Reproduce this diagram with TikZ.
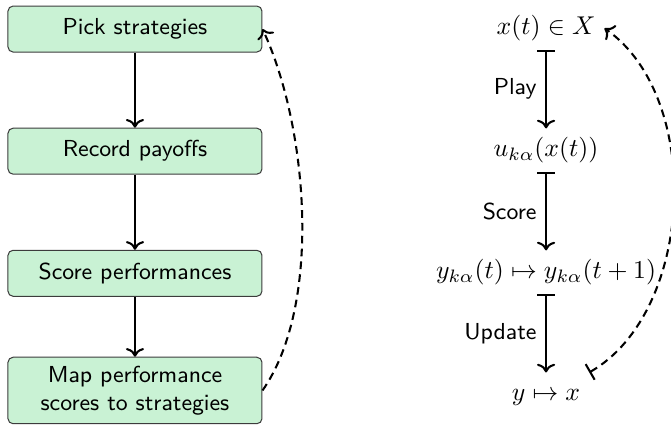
\documentclass[tikz,border=0pt]{standalone}
\usetikzlibrary{arrows.meta,positioning}
\definecolor{boxfill}{HTML}{C9F2D4}
\definecolor{boxline}{HTML}{3C3C3C}
\begin{document}
\begin{tikzpicture}[
  font=\small\sffamily,>=To,
  stepbox/.style={draw=boxline, rounded corners=2pt, fill=boxfill, align=center, minimum width=98.8pt, minimum height=17.9pt},
  term/.style={font=\normalsize, text height=7.5pt, text depth=2.5pt},
  flow/.style={->, thick},
  mapto/.style={thick, arrows={Bar[width=7pt]-To}},
  back/.style={thick, dash pattern=on 3pt off 2pt},
]
\useasboundingbox (0,0) rectangle (261pt,-166pt);
% the four steps on the left
\node[stepbox] (pick) at (52.5pt,-11.3pt) {Pick strategies};
\node[stepbox, below=29.2pt of pick] (rec) {Record payoffs};
\node[stepbox, below=29.2pt of rec] (score) {Score performances};
\node[stepbox, below=23.3pt of score] (map) {Map performance\\scores to strategies};
\draw[flow] (pick) -- (rec);
\draw[flow] (rec) -- (score);
\draw[flow] (score) -- (map);
% back to the start
\draw[back, ->] (map.east) to[out=55,in=-65,looseness=0.75] (pick.east);
% the same loop written as maps
\node[term] (xt) at (212.4pt,-11pt) {$x(t)\in X$};
\node[term, below=30.4pt of xt] (u) {$u_{k\alpha}(x(t))$};
\node[term, below=30.4pt of u] (yy) {$y_{k\alpha}(t)\mapsto y_{k\alpha}(t+1)$};
\node[term, below=30.4pt of yy] (yx) {$y\mapsto x$};
\draw[mapto] (xt.south) -- node[left]{Play} (u.north);
\draw[mapto] (u.south) -- node[left]{Score} (yy.north);
\draw[mapto] (yy.south) -- node[left]{Update} (yx.north);
\draw[back, arrows={Bar[width=7pt]-To}] (yx.north east) to[out=30,in=-35,looseness=0.9] (xt.east);
\end{tikzpicture}
\end{document}
